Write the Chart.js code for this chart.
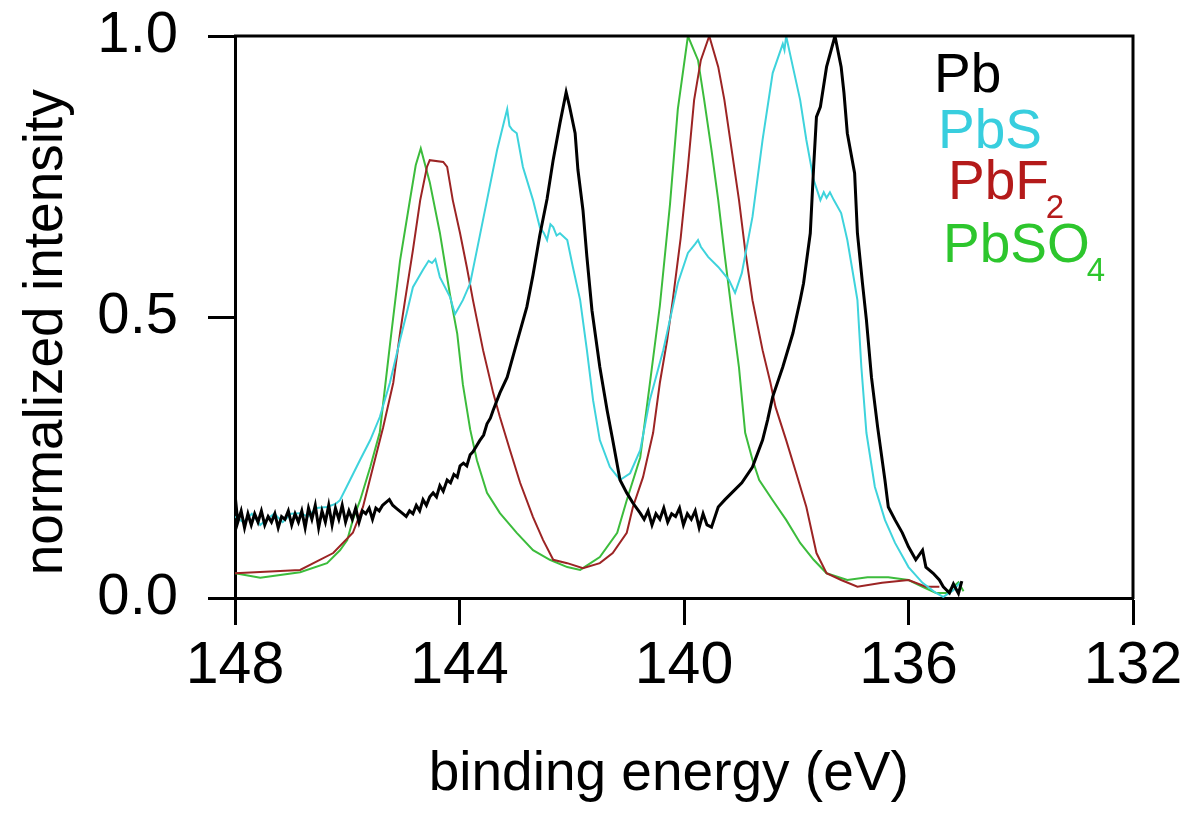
<!DOCTYPE html>
<html>
<head>
<meta charset="utf-8">
<title>Pb 4f spectra</title>
<script src="https://cdn.jsdelivr.net/npm/chart.js@4.4.0/dist/chart.umd.min.js"></script>
<style>
  html, body { margin: 0; padding: 0; background: #fff; }
  #wrap { width: 1184px; height: 814px; }
</style>
</head>
<body>
<div id="wrap"><canvas id="chart" width="1184" height="814"></canvas></div>
<script>
// Pb 4f spectra, binding energy (eV) vs normalized intensity
const pbEnergy = [
  148.00,147.95,147.89,147.83,147.77,147.71,147.65,147.59,147.53,147.47,
  147.41,147.35,147.29,147.23,147.17,147.11,147.05,146.99,146.93,146.87,
  146.81,146.75,146.69,146.63,146.57,146.51,146.45,146.39,146.33,146.27,
  146.21,146.15,146.09,146.03,145.97,145.91,145.85,145.79,145.73,145.67,
  145.61,145.55,145.49,145.43,145.37,145.31,145.25,145.19,145.13,145.07,
  145.01,144.95,144.89,144.83,144.77,144.71,144.65,144.59,144.53,144.47,
  144.41,144.35,144.29,144.22,144.16,144.10,144.04,143.99,143.93,143.87,
  143.81,143.76,143.70,143.64,143.57,143.51,143.45,143.40,143.28,143.15,
  142.98,142.80,142.69,142.57,142.44,142.33,142.21,142.10,142.04,141.94,
  141.89,141.80,141.73,141.64,141.50,141.37,141.27,141.14,141.02,140.91,
  140.78,140.71,140.64,140.57,140.50,140.43,140.36,140.29,140.22,140.15,
  140.08,140.01,139.94,139.87,139.80,139.73,139.66,139.59,139.51,139.39,
  139.27,139.15,138.97,138.78,138.60,138.51,138.42,138.24,138.06,137.93,
  137.87,137.75,137.69,137.64,137.57,137.46,137.31,137.20,137.15,137.09,
  136.96,136.91,136.82,136.75,136.66,136.55,136.42,136.36,136.24,136.11,
  136.00,135.87,135.75,135.69,135.56,135.45,135.38,135.27,135.20,135.11,
  135.05
];
const pbIntensity = [
  0.185,0.135,0.155,0.125,0.150,0.130,0.150,0.135,0.155,0.130,
  0.145,0.135,0.150,0.125,0.145,0.140,0.155,0.130,0.150,0.135,
  0.155,0.125,0.160,0.140,0.165,0.125,0.155,0.135,0.165,0.130,
  0.160,0.140,0.165,0.135,0.155,0.140,0.160,0.135,0.155,0.150,
  0.160,0.140,0.160,0.155,0.165,0.170,0.175,0.165,0.160,0.155,
  0.150,0.145,0.155,0.150,0.165,0.155,0.175,0.165,0.180,0.187,
  0.180,0.200,0.190,0.210,0.205,0.220,0.215,0.235,0.240,0.235,
  0.255,0.260,0.270,0.280,0.290,0.310,0.320,0.334,0.365,0.393,
  0.454,0.518,0.575,0.645,0.710,0.780,0.845,0.900,0.875,0.827,
  0.762,0.690,0.607,0.512,0.411,0.334,0.281,0.210,0.187,0.169,
  0.151,0.140,0.155,0.130,0.150,0.140,0.160,0.135,0.150,0.145,
  0.160,0.130,0.150,0.140,0.155,0.125,0.150,0.130,0.126,0.162,
  0.175,0.187,0.205,0.233,0.281,0.317,0.358,0.411,0.471,0.530,
  0.560,0.649,0.767,0.856,0.874,0.945,1.000,0.945,0.899,0.827,
  0.756,0.649,0.560,0.495,0.393,0.304,0.210,0.162,0.139,0.116,
  0.091,0.068,0.085,0.055,0.044,0.032,0.020,0.009,0.025,0.008,
  0.030
];

const pbsEnergy = [
  148.00,147.85,147.70,147.55,147.43,147.30,147.15,147.00,146.84,146.70,
  146.55,146.36,146.20,146.13,145.95,145.77,145.59,145.42,145.24,145.06,
  144.94,144.83,144.65,144.55,144.49,144.43,144.35,144.17,144.08,143.94,
  143.81,143.69,143.51,143.33,143.20,143.15,143.11,143.06,142.98,142.87,
  142.69,142.57,142.50,142.44,142.38,142.33,142.27,142.21,142.08,141.98,
  141.85,141.73,141.62,141.50,141.32,141.14,140.96,140.78,140.61,140.37,
  140.20,140.11,139.93,139.80,139.75,139.70,139.57,139.39,139.20,139.09,
  138.97,138.78,138.60,138.42,138.24,138.21,138.18,138.06,137.93,137.82,
  137.69,137.57,137.51,137.46,137.40,137.33,137.20,137.09,136.96,136.91,
  136.84,136.75,136.60,136.42,136.24,136.00,135.75,135.51,135.38,135.20,
  135.09
];
const pbsIntensity = [
  0.145,0.135,0.150,0.130,0.140,0.150,0.135,0.150,0.151,0.145,
  0.160,0.162,0.168,0.174,0.210,0.246,0.281,0.322,0.383,0.459,
  0.507,0.553,0.584,0.600,0.596,0.603,0.571,0.536,0.505,0.530,
  0.560,0.619,0.708,0.797,0.850,0.870,0.840,0.833,0.827,0.767,
  0.708,0.660,0.650,0.637,0.665,0.660,0.645,0.649,0.637,0.589,
  0.530,0.441,0.352,0.281,0.233,0.210,0.222,0.263,0.352,0.441,
  0.518,0.560,0.614,0.630,0.637,0.625,0.607,0.589,0.566,0.543,
  0.578,0.678,0.815,0.934,0.986,0.975,1.000,0.945,0.886,0.815,
  0.744,0.708,0.722,0.712,0.722,0.708,0.685,0.637,0.560,0.530,
  0.411,0.294,0.198,0.139,0.098,0.055,0.027,0.009,0.002,0.014,
  0.027
];

const pbf2Energy = [
  148.00,146.84,146.25,145.90,145.72,145.54,145.36,145.18,145.06,144.97,
  144.83,144.70,144.58,144.53,144.29,144.22,144.12,143.99,143.87,143.76,
  143.58,143.40,143.28,143.10,142.92,142.69,142.51,142.33,142.08,141.80,
  141.50,141.27,141.02,140.91,140.73,140.55,140.43,140.30,140.20,140.06,
  139.93,139.82,139.70,139.55,139.39,139.28,139.15,139.02,138.91,138.78,
  138.60,138.46,138.37,138.18,138.00,137.82,137.64,137.46,137.20,136.91,
  136.47,136.00,135.69,135.45
];
const pbf2Intensity = [
  0.044,0.050,0.080,0.116,0.162,0.233,0.304,0.383,0.471,0.530,
  0.619,0.708,0.767,0.779,0.776,0.767,0.708,0.649,0.589,0.530,
  0.441,0.365,0.322,0.263,0.205,0.144,0.103,0.068,0.062,0.053,
  0.062,0.080,0.116,0.162,0.215,0.294,0.383,0.459,0.530,0.640,
  0.767,0.886,0.957,1.000,0.945,0.886,0.797,0.708,0.619,0.530,
  0.441,0.383,0.340,0.281,0.222,0.162,0.080,0.044,0.032,0.020,
  0.027,0.032,0.020,0.020
];

const pbso4Energy = [
  148.00,147.55,146.84,146.36,146.13,146.00,145.90,145.77,145.59,145.42,
  145.24,145.06,144.88,144.78,144.69,144.53,144.35,144.17,144.04,143.94,
  143.81,143.69,143.51,143.28,142.98,142.69,142.39,142.08,141.85,141.50,
  141.19,141.02,140.78,140.61,140.43,140.25,140.11,139.93,139.75,139.64,
  139.51,139.39,139.28,139.15,139.02,138.91,138.78,138.66,138.42,138.18,
  137.93,137.69,137.46,137.09,136.73,136.36,136.00,135.75,135.51,135.33,
  135.11,135.02
];
const pbso4Intensity = [
  0.044,0.036,0.046,0.062,0.085,0.103,0.139,0.174,0.233,0.295,
  0.450,0.600,0.710,0.770,0.800,0.740,0.650,0.540,0.470,0.380,
  0.300,0.245,0.187,0.151,0.116,0.085,0.068,0.055,0.050,0.073,
  0.116,0.174,0.250,0.380,0.520,0.700,0.870,1.000,0.957,0.886,
  0.797,0.708,0.614,0.510,0.410,0.294,0.246,0.210,0.174,0.139,
  0.098,0.068,0.044,0.032,0.037,0.037,0.032,0.020,0.009,0.009,
  0.028,0.012
];

const xTicks = [148, 144, 140, 136, 132];
const yTicks = [0.0, 0.5, 1.0];

// key entries: main text + subscript
const keyNames = ['Pb', 'PbS', 'PbF', 'PbSO'];
const keySubs = ['', '', '2', '4'];

const FONT = '"Liberation Sans", Arial, Helvetica, sans-serif';

function toPoints(xs, ys) {
  return xs.map((x, i) => ({ x: x, y: ys[i] }));
}

const series = [
  { label: 'Pb',    data: toPoints(pbEnergy, pbIntensity),       color: '#000000', text: '#000000', width: 3 },
  { label: 'PbS',   data: toPoints(pbsEnergy, pbsIntensity),     color: '#3ed3dc', text: '#38cede', width: 2 },
  { label: 'PbF2',  data: toPoints(pbf2Energy, pbf2Intensity),   color: '#9c2424', text: '#b41a1a', width: 2 },
  { label: 'PbSO4', data: toPoints(pbso4Energy, pbso4Intensity), color: '#3cbc3c', text: '#2dc62d', width: 2 }
];

// top/right frame lines and the coloured text key
const framePlugin = {
  id: 'frameAndKey',
  afterDatasetsDraw(chart) {
    const { ctx, chartArea } = chart;
    ctx.save();
    ctx.strokeStyle = '#000';
    ctx.lineWidth = 3;
    ctx.beginPath();
    ctx.moveTo(chartArea.left - 1, chartArea.top);
    ctx.lineTo(chartArea.right, chartArea.top);
    ctx.lineTo(chartArea.right, chartArea.bottom + 1);
    ctx.stroke();

    const pos = [[934, 92], [938, 148], [948, 199], [943, 262]];
    ctx.textAlign = 'left';
    ctx.textBaseline = 'alphabetic';
    keyNames.forEach((name, i) => {
      const [x, y] = pos[i];
      ctx.fillStyle = series[i].text;
      ctx.font = '55px ' + FONT;
      ctx.fillText(name, x, y);
      if (keySubs[i]) {
        const w = ctx.measureText(name).width;
        ctx.font = '33px ' + FONT;
        ctx.fillText(keySubs[i], x + w - 3, y + 19);
      }
    });
    ctx.restore();
  }
};

new Chart(document.getElementById('chart'), {
  type: 'line',
  data: {
    datasets: series.map(s => ({
      label: s.label,
      data: s.data,
      borderColor: s.color,
      borderWidth: s.width,
      pointRadius: 0,
      tension: 0,
      fill: false
    }))
  },
  options: {
    responsive: false,
    animation: false,
    layout: { padding: { top: 36, right: 51, left: 0, bottom: 0 } },
    plugins: {
      legend: { display: false },
      tooltip: { enabled: false }
    },
    scales: {
      x: {
        type: 'linear',
        min: 132,
        max: 148,
        reverse: true,
        afterBuildTicks: (scale) => { scale.ticks = xTicks.map(v => ({ value: v })); },
        afterFit: (scale) => {
          scale.height = 216;
          scale.paddingLeft = 0;
          scale.paddingRight = 0;
        },
        ticks: {
          color: '#000',
          font: { family: FONT, size: 59 },
          padding: 6,
          maxRotation: 0,
          autoSkip: false
        },
        grid: {
          drawOnChartArea: false,
          drawTicks: true,
          tickLength: 27,
          tickWidth: 3,
          tickColor: '#000'
        },
        border: { display: true, color: '#000', width: 3 },
        title: {
          display: true,
          // trailing spaces nudge the centred title a little to the left
          text: 'binding energy (eV)  ',
          color: '#000',
          font: { family: FONT, size: 55, lineHeight: 1 },
          padding: { top: 0, bottom: 12 }
        }
      },
      y: {
        min: 0,
        max: 1,
        afterBuildTicks: (scale) => { scale.ticks = yTicks.map(v => ({ value: v })); },
        afterFit: (scale) => {
          scale.width = 235;
          scale.paddingTop = 0;
          scale.paddingBottom = 0;
        },
        ticks: {
          color: '#000',
          font: { family: FONT, size: 58 },
          padding: 30,
          callback: (v) => Number(v).toFixed(1)
        },
        grid: {
          drawOnChartArea: false,
          drawTicks: true,
          tickLength: 27,
          tickWidth: 3,
          tickColor: '#000'
        },
        border: { display: true, color: '#000', width: 3 },
        title: {
          display: true,
          text: 'normalized intensity  ',
          color: '#000',
          font: { family: FONT, size: 55, lineHeight: 1 },
          padding: { top: 19, bottom: 0 }
        }
      }
    }
  },
  plugins: [framePlugin]
});
</script>
</body>
</html>
